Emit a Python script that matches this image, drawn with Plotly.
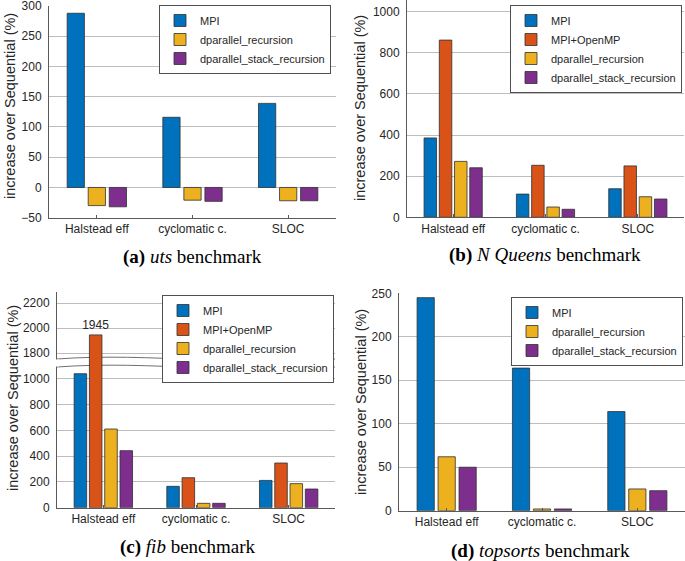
import plotly.graph_objects as go

W, H = 685, 561

categories = ["Halstead eff", "cyclomatic c.", "SLOC"]
series_names = ["MPI", "MPI+OpenMP", "dparallel_recursion", "dparallel_stack_recursion"]
colors = {"MPI": "#0072BD", "MPI+OpenMP": "#D95319",
          "dparallel_recursion": "#EDB120", "dparallel_stack_recursion": "#7E2F8E"}

# (a) uts
uts_mpi = [288, 116, 139]
uts_dpr = [-30, -21, -22]
uts_dpsr = [-32, -23, -22]

# (b) N Queens
nq_mpi = [386, 113, 139]
nq_omp = [862, 253, 250]
nq_dpr = [272, 50, 100]
nq_dpsr = [241, 39, 89]

# (c) fib
fib_mpi = [1041, 166, 212]
fib_omp = [1945, 233, 347]
fib_dpr = [611, 34, 187]
fib_dpsr = [443, 34, 145]
fib_label = ["1945", "", ""]

# (d) topsorts
ts_mpi = [245, 164, 114]
ts_dpr = [62, 2, 25]
ts_dpsr = [50, 2, 23]

captions = [
    "<b>(a)</b> <i>uts</i> benchmark",
    "<b>(b)</b> <i>N Queens</i> benchmark",
    "<b>(c)</b> <i>fib</i> benchmark",
    "<b>(d)</b> <i>topsorts</i> benchmark",
]
ytitle = "increase over Sequential (%)"

xpos = list(range(len(categories)))

def px_x(p):
    return p / W

def px_y(p):
    return 1 - p / H

fig = go.Figure()

def add(name, vals, xa, ya, legend, showlegend=True, text=None):
    kw = {}
    if text is not None:
        kw = dict(text=text, textposition="outside", constraintext="none",
                  textfont=dict(family="Liberation Sans, Arial", size=12, color="#262626"))
    fig.add_trace(go.Bar(
        x=xpos, y=vals, name=name, xaxis=xa, yaxis=ya, legend=legend,
        showlegend=showlegend,
        marker=dict(color=colors[name], line=dict(color="#303030", width=0.8)),
        **kw))

# (a)
add("MPI", uts_mpi, "x", "y", "legend")
add("dparallel_recursion", uts_dpr, "x", "y", "legend")
add("dparallel_stack_recursion", uts_dpsr, "x", "y", "legend")
# (b)
add("MPI", nq_mpi, "x2", "y2", "legend2")
add("MPI+OpenMP", nq_omp, "x2", "y2", "legend2")
add("dparallel_recursion", nq_dpr, "x2", "y2", "legend2")
add("dparallel_stack_recursion", nq_dpsr, "x2", "y2", "legend2")
# (c) lower
add("MPI", fib_mpi, "x3", "y3", "legend3")
add("MPI+OpenMP", fib_omp, "x3", "y3", "legend3")
add("dparallel_recursion", fib_dpr, "x3", "y3", "legend3")
add("dparallel_stack_recursion", fib_dpsr, "x3", "y3", "legend3")
# (c) upper
add("MPI", fib_mpi, "x3", "y5", "legend3", showlegend=False)
add("MPI+OpenMP", fib_omp, "x3", "y5", "legend3", showlegend=False, text=fib_label)
add("dparallel_recursion", fib_dpr, "x3", "y5", "legend3", showlegend=False)
add("dparallel_stack_recursion", fib_dpsr, "x3", "y5", "legend3", showlegend=False)
# (d)
add("MPI", ts_mpi, "x4", "y4", "legend4")
add("dparallel_recursion", ts_dpr, "x4", "y4", "legend4")
add("dparallel_stack_recursion", ts_dpsr, "x4", "y4", "legend4")

tickfont = dict(family="Liberation Sans, Arial", size=12, color="#262626")
axline = "#5a5a5a"
gridc = "#bdbdbd"

def xax(domain, anchor):
    return dict(domain=domain, anchor=anchor, range=[-0.5, 2.5],
                tickvals=xpos, ticktext=categories, tickfont=tickfont,
                showline=True, linecolor=axline, linewidth=1,
                ticks="inside", ticklen=3, tickcolor=axline,
                showgrid=False, zeroline=False, fixedrange=True,
                automargin=False)

def yax(domain, anchor, rng, dtick=None, tickvals=None):
    d = dict(domain=domain, anchor=anchor, range=rng, tickfont=tickfont,
             showline=True, linecolor=axline, linewidth=1,
             showgrid=True, gridcolor=gridc, gridwidth=1,
             zeroline=False, ticks="", fixedrange=True,
             ticklabelstandoff=4, ticklabeloverflow="allow", automargin=False)
    if dtick is not None:
        d["dtick"] = dtick
    if tickvals is not None:
        d["tickvals"] = tickvals
    return d

dom_a_x = [px_x(49), px_x(336)]
dom_a_y = [px_y(217.7), px_y(6)]
dom_b_x = [px_x(407), px_x(684)]
dom_b_y = [px_y(217.3), 1.0]
dom_c_x = [px_x(57), px_x(335)]
dom_c_lo = [px_y(507.7), px_y(363)]
dom_c_hi = [px_y(363), px_y(292)]
dom_d_x = [px_x(399), px_x(685)]
dom_d_y = [px_y(510.7), px_y(293.3)]

legend_style = dict(bgcolor="white", bordercolor="#505050", borderwidth=1,
                    font=dict(family="Liberation Sans, Arial", size=11, color="#262626"),
                    xanchor="right", yanchor="top", tracegroupgap=0, itemwidth=30,
                    itemclick=False, itemdoubleclick=False)

fig.update_layout(
    template="none",
    width=W, height=H, autosize=False,
    margin=dict(l=0, r=0, t=0, b=0, pad=0),
    paper_bgcolor="white", plot_bgcolor="white",
    barmode="group", bargap=0.34, bargroupgap=0.18,
    xaxis=xax(dom_a_x, "y"),
    yaxis=yax(dom_a_y, "x", [-50, 300], dtick=50),
    xaxis2=xax(dom_b_x, "y2"),
    yaxis2=yax(dom_b_y, "x2", [0, 1057], dtick=200),
    xaxis3=xax(dom_c_x, "y3"),
    yaxis3=yax(dom_c_lo, "x3", [0, 1124], dtick=200),
    yaxis5=yax(dom_c_hi, "x3", [1720, 2288], tickvals=[1800, 2000, 2200]),
    xaxis4=xax(dom_d_x, "y4"),
    yaxis4=yax(dom_d_y, "x4", [0, 250], dtick=50),
    legend=dict(x=px_x(331), y=px_y(5), **legend_style),
    legend2=dict(x=px_x(682), y=px_y(5), **legend_style),
    legend3=dict(x=px_x(334), y=px_y(295), **legend_style),
    legend4=dict(x=px_x(683), y=px_y(297), **legend_style),
    showlegend=True,
)

# y titles
ann = []
for (xp, yp) in [(10, 106), (360, 108), (13, 398), (361, 402)]:
    ann.append(dict(text=ytitle, x=px_x(xp), y=px_y(yp), xref="paper", yref="paper",
                    textangle=-90, showarrow=False, xanchor="center", yanchor="middle",
                    font=dict(family="Liberation Sans, Arial", size=14.5, color="#262626")))
# captions
for cap, (xp, yp) in zip(captions, [(192, 257), (545, 255), (188, 547), (540, 551)]):
    ann.append(dict(text=cap, x=px_x(xp), y=px_y(yp), xref="paper", yref="paper",
                    showarrow=False, xanchor="center", yanchor="middle",
                    font=dict(family="Liberation Serif, Times New Roman, serif", size=19,
                              color="black")))
fig.update_layout(annotations=ann)

# axis break in (c)
def P(x, y):
    return f"{px_x(x):.5f},{px_y(y):.5f}"

top_curve = f"M {P(57,359)} C {P(150,352)} {P(250,368)} {P(335,359)}"
bot_curve = f"M {P(57,367)} C {P(150,360)} {P(250,376)} {P(335,367)}"
shapes = [
    dict(type="path", path=top_curve, xref="paper", yref="paper", layer="below",
         line=dict(color="#707070", width=1)),
    dict(type="path", path=bot_curve, xref="paper", yref="paper", layer="below",
         line=dict(color="#707070", width=1)),
    dict(type="rect", x0=px_x(55), x1=px_x(59), y0=px_y(366.5), y1=px_y(359.5),
         xref="paper", yref="paper", layer="above", line=dict(width=0),
         fillcolor="white"),
]
fig.update_layout(shapes=shapes)

fig.write_html("out.html", config={"displayModeBar": False},
               post_script="document.body.style.margin='0px';")
